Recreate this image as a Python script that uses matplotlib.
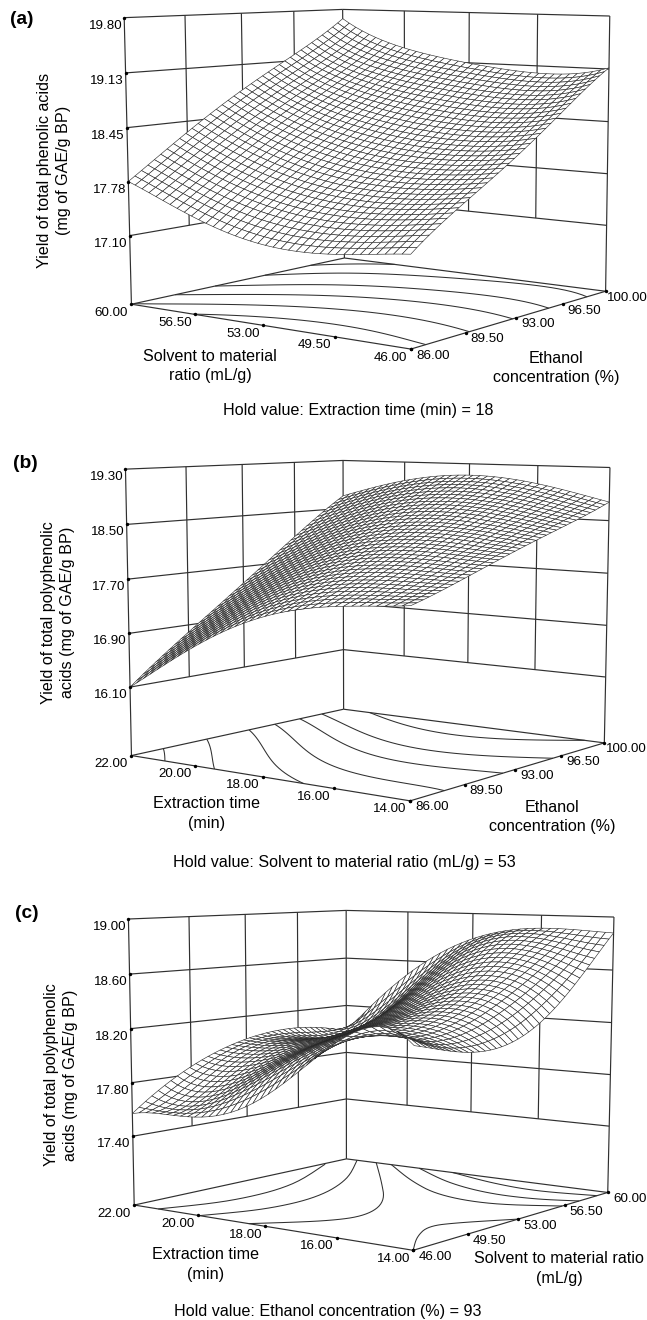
import numpy as np
import matplotlib
matplotlib.use("Agg")
import matplotlib.pyplot as plt
from mpl_toolkits.mplot3d.art3d import Line3DCollection

plt.rcParams['font.family'] = ['Liberation Sans', 'DejaVu Sans']

W, H = 647, 1320

# ---- values ----
a_x = [46.0, 49.5, 53.0, 56.5, 60.0]
a_y = [86.0, 89.5, 93.0, 96.5, 100.0]
a_z_ticks = [17.10, 17.775, 18.45, 19.125, 19.80]
a_z_labels = ['17.10', '17.78', '18.45', '19.13', '19.80']
a_floor = 16.23
a_z = [[17.30, 17.19, 17.20, 17.43, 17.78],
       [17.77, 17.67, 17.72, 17.94, 18.31],
       [18.20, 18.11, 18.18, 18.40, 18.79],
       [18.68, 18.57, 18.65, 18.83, 19.21],
       [19.14, 19.03, 19.12, 19.29, 19.67]]
a_levels = [17.44, 17.80, 18.17, 18.53, 18.95, 19.33]

b_x = [14.0, 16.0, 18.0, 20.0, 22.0]
b_y = [86.0, 89.5, 93.0, 96.5, 100.0]
b_z_ticks = [16.10, 16.90, 17.70, 18.50, 19.30]
b_z_labels = ['16.10', '16.90', '17.70', '18.50', '19.30']
b_floor = 15.07
b_z = [[17.66, 17.56, 17.32, 16.80, 16.10],
       [17.93, 17.93, 17.79, 17.38, 16.79],
       [18.22, 18.30, 18.24, 17.93, 17.44],
       [18.49, 18.66, 18.69, 18.48, 18.10],
       [18.78, 19.02, 19.12, 19.00, 18.71]]
b_levels = [16.48, 16.98, 17.49, 17.82, 18.15, 18.44, 18.85]

c_x = [14.0, 16.0, 18.0, 20.0, 22.0]
c_y = [46.0, 49.5, 53.0, 56.5, 60.0]
c_z_ticks = [17.40, 17.80, 18.20, 18.60, 19.00]
c_z_labels = ['17.40', '17.80', '18.20', '18.60', '19.00']
c_floor = 16.88
c_z = [[18.24, 18.22, 17.80, 17.60, 17.57],
       [18.14, 18.26, 18.12, 17.88, 17.86],
       [18.19, 18.40, 18.22, 18.04, 18.02],
       [18.47, 18.66, 18.46, 18.09, 18.06],
       [18.88, 18.90, 18.80, 18.49, 17.98]]
# floor contour lines of panel (c), read directly as (time, solvent ratio) pairs
c_contour_1 = [(21.23, 46.0), (20.49, 48.97), (20.62, 53.17), (21.94, 58.28)]
c_contour_2 = [(19.95, 46.0), (19.21, 48.53), (19.19, 51.85), (20.09, 55.84), (21.64, 60.0)]
c_contour_3 = [(18.48, 46.0), (17.26, 48.2), (16.94, 49.99), (17.58, 52.68), (19.30, 56.43), (21.0, 60.0)]
c_contour_4 = [(14.0, 46.0), (14.70, 47.9), (15.17, 49.79), (14.84, 51.05), (14.0, 53.0)]
c_contour_5 = [(20.5, 60.0), (18.71, 57.21), (17.06, 55.18), (15.43, 54.82), (14.0, 56.3)]
c_contour_6 = [(19.6, 60.0), (17.85, 57.83), (16.26, 56.78), (14.94, 56.88), (14.0, 57.65)]
c_contour_7 = [(18.54, 60.0), (16.95, 58.9), (15.48, 58.43), (14.0, 59.1)]
c_contours = [c_contour_1, c_contour_2, c_contour_3, c_contour_4,
              c_contour_5, c_contour_6, c_contour_7]

# Reference pixels of the box corners: they calibrate the 3D camera of each panel
# order: L, F, R, B (floor), top L, top B, top R, lowest tick L, lowest tick R
a_cam = [(131.4, 304.7), (411.2, 349.3), (605.4, 291.7), (345.0, 258.3),
         (124.3, 18.3), (342.3, 9.3), (610.3, 16.0), (129.3, 234.3), (606.0, 224.7)]
b_cam = [(131.4, 756.0), (410.3, 801.3), (604.1, 743.3), (343.8, 709.7),
         (125.2, 469.7), (343.0, 460.3), (610.3, 467.7), (130.2, 685.7), (605.4, 676.0)]
c_cam = [(134.3, 1205.3), (413.2, 1250.7), (607.4, 1192.7), (346.3, 1159.3),
         (128.1, 919.3), (346.3, 910.3), (614.0, 917.3), (133.0, 1135.3), (609.5, 1125.3)]

MESH = 38          # mesh lines per side; the 5x5 read-off tables are only smoothed onto this mesh
LINE = '#303030'


def fit_camera(x, y, z_ticks, floor, cam):
    """4x4 projection from data coordinates to figure pixels, from the box corners."""
    x0, x1, y0, y1 = x[0], x[-1], y[0], y[-1]
    zt, zl = z_ticks[-1], z_ticks[0]
    world = [(x1, y0, floor), (x0, y0, floor), (x0, y1, floor), (x1, y1, floor),
             (x1, y0, zt), (x1, y1, zt), (x0, y1, zt), (x1, y0, zl), (x0, y1, zl)]
    N = np.array([[1 / (x1 - x0), 0, 0, -x0 / (x1 - x0)],
                  [0, 1 / (y1 - y0), 0, -y0 / (y1 - y0)],
                  [0, 0, 1 / (zt - floor), -floor / (zt - floor)],
                  [0, 0, 0, 1]])
    A, b = [], []
    for w, (u, v) in zip(world, cam):
        p = N @ np.array([*w, 1.0])
        A.append([*p, 0, 0, 0, 0, *(-u * p[:3])]); b.append(u)
        A.append([0, 0, 0, 0, *p, *(-v * p[:3])]); b.append(v)
    h = np.linalg.lstsq(np.array(A), np.array(b), rcond=None)[0]
    depth = [1.0, 1.0, -0.35, 0.0]     # far corner has the largest x + y; high points are nearer
    M = np.array([h[:4], h[4:8], depth, [*h[8:11], 1.0]])
    return M @ N


def smooth(xn, yn, zn, n):
    xn, yn, zn = np.asarray(xn), np.asarray(yn), np.asarray(zn)
    xf, yf = np.linspace(xn[0], xn[-1], n), np.linspace(yn[0], yn[-1], n)
    Vx = np.vander((xn - xn.mean()) / 5, 5)
    Vy = np.vander((yn - yn.mean()) / 5, 5)
    Fx = np.vander((xf - xn.mean()) / 5, 5)
    Fy = np.vander((yf - yn.mean()) / 5, 5)
    Zf = Fy @ np.linalg.pinv(Vy) @ zn @ np.linalg.pinv(Vx).T @ Fx.T
    X, Y = np.meshgrid(xf, yf)
    return X, Y, Zf


def rounded(points, passes=3):
    """Round the corners of a read-off polyline, keeping its ends."""
    p = np.asarray(points, float)
    for _ in range(passes):
        a, b = p[:-1], p[1:]
        q = np.empty((2 * len(a), 2))
        q[0::2] = 0.75 * a + 0.25 * b
        q[1::2] = 0.25 * a + 0.75 * b
        p = np.vstack([p[0], q[1:-1], p[-1]])
    return p


def panel(top, x, y, z_ticks, z_labels, floor, z, levels, cam, lines=None):
    ax = fig.add_axes([0, 1 - (top + W) / H, 1, W / H], projection='3d', computed_zorder=False)
    ax.set_axis_off()
    ax.patch.set_visible(False)
    ax.set_proj_type('ortho')          # no clipping of markers to the unit cube
    M = fit_camera(x, y, z_ticks, floor, cam)
    ax.get_proj = lambda: M
    ax.viewLim.intervalx = (0, W)
    ax.viewLim.intervaly = (top + W, top)

    x0, x1, y0, y1 = x[0], x[-1], y[0], y[-1]
    zt = z_ticks[-1]
    segs = [[(x1, y0, floor), (x0, y0, floor)], [(x0, y0, floor), (x0, y1, floor)],
            [(x0, y1, floor), (x1, y1, floor)], [(x1, y1, floor), (x1, y0, floor)]]
    for cx, cy in [(x1, y0), (x1, y1), (x0, y1)]:
        segs.append([(cx, cy, floor), (cx, cy, zt)])
    for zv in z_ticks:
        segs.append([(x1, y0, zv), (x1, y1, zv)])
        segs.append([(x1, y1, zv), (x0, y1, zv)])
    for v in y[1:-1]:
        segs.append([(x1, v, z_ticks[0]), (x1, v, zt)])
    for v in x[1:-1]:
        segs.append([(v, y1, z_ticks[0]), (v, y1, zt)])
    ax.add_collection3d(Line3DCollection(segs, colors=LINE, linewidths=0.85, zorder=1))

    X, Y, Z = smooth(x, y, z, MESH)
    if lines is None:
        ax.contour(X, Y, Z, levels=levels, zdir='z', offset=floor, colors=LINE,
                   linewidths=0.75, zorder=1.5)
    else:
        curves = [[(a, b, floor) for a, b in rounded(c)] for c in lines]
        ax.add_collection3d(Line3DCollection(curves, colors=LINE, linewidths=0.75, zorder=1.5),
                            autolim=False)
    ax.plot_surface(X, Y, Z, rstride=1, cstride=1, color='white', shade=False,
                    edgecolor='#262626', linewidth=0.42, zorder=2)

    # tick dots
    dot = dict(s=6, c='black', depthshade=False, linewidths=0, zorder=3)
    ax.scatter([x1] * 5, [y0] * 5, z_ticks, **dot)
    ax.scatter(x, [y0] * 5, [floor] * 5, **dot)
    ax.scatter([x0] * 5, y, [floor] * 5, **dot)

    def to_px(px, py, pz):
        v = M @ np.array([px, py, pz, 1.0])
        return v[0] / v[3], v[1] / v[3]

    def put(u, v, s, **k):
        fig.text(u / W, 1 - v / H, s, fontsize=TICK, **k)

    for zv, s in zip(z_ticks, z_labels):
        u, v = to_px(x1, y0, zv)
        put(u - 2, v + 8, s, ha='right', va='center')
    for xv in x:
        u, v = to_px(xv, y0, floor)
        put(u - 20, v + 8.5, f'{xv:.2f}', ha='center', va='center')
    for yv in y:
        u, v = to_px(x0, yv, floor)
        put(u + 22, v + 6.5, f'{yv:.2f}', ha='center', va='center')
    return ax


def label(u, v, s, **k):
    k.setdefault('fontsize', TEXT)
    fig.text(u / W, 1 - v / H, s, ha='center', va='center', linespacing=1.4, **k)


TICK, TEXT, BOLD = 9.6, 11.6, 13.8
fig = plt.figure(figsize=(W / 100, H / 100), dpi=100, facecolor='white')

panel(0, a_x, a_y, a_z_ticks, a_z_labels, a_floor, a_z, a_levels, a_cam)
panel(430, b_x, b_y, b_z_ticks, b_z_labels, b_floor, b_z, b_levels, b_cam)
panel(673, c_x, c_y, c_z_ticks, c_z_labels, c_floor, c_z, None, c_cam, lines=c_contours)

label(21.7, 20, '(a)', fontsize=BOLD, fontweight='bold')
label(25.4, 463, '(b)', fontsize=BOLD, fontweight='bold')
label(26.9, 913, '(c)', fontsize=BOLD, fontweight='bold')

label(54, 170, 'Yield of total phenolic acids\n(mg of GAE/g BP)', rotation=90)
label(58, 612.5, 'Yield of total polyphenolic\nacids (mg of GAE/g BP)', rotation=90)
label(61, 1075, 'Yield of total polyphenolic\nacids (mg of GAE/g BP)', rotation=90)

label(210, 366, 'Solvent to material\nratio (mL/g)')
label(555.8, 368, 'Ethanol\nconcentration (%)')
label(358.7, 411, 'Hold value: Extraction time (min) = 18')

label(206.6, 813.7, 'Extraction time\n(min)')
label(552.5, 817, 'Ethanol\nconcentration (%)')
label(344, 862.3, 'Hold value: Solvent to material ratio (mL/g) = 53')

label(205.8, 1264.7, 'Extraction time\n(min)')
label(559.3, 1268.7, 'Solvent to material ratio\n(mL/g)')
label(327.9, 1311.7, 'Hold value: Ethanol concentration (%) = 93')

fig.savefig('out.png', dpi=100)
